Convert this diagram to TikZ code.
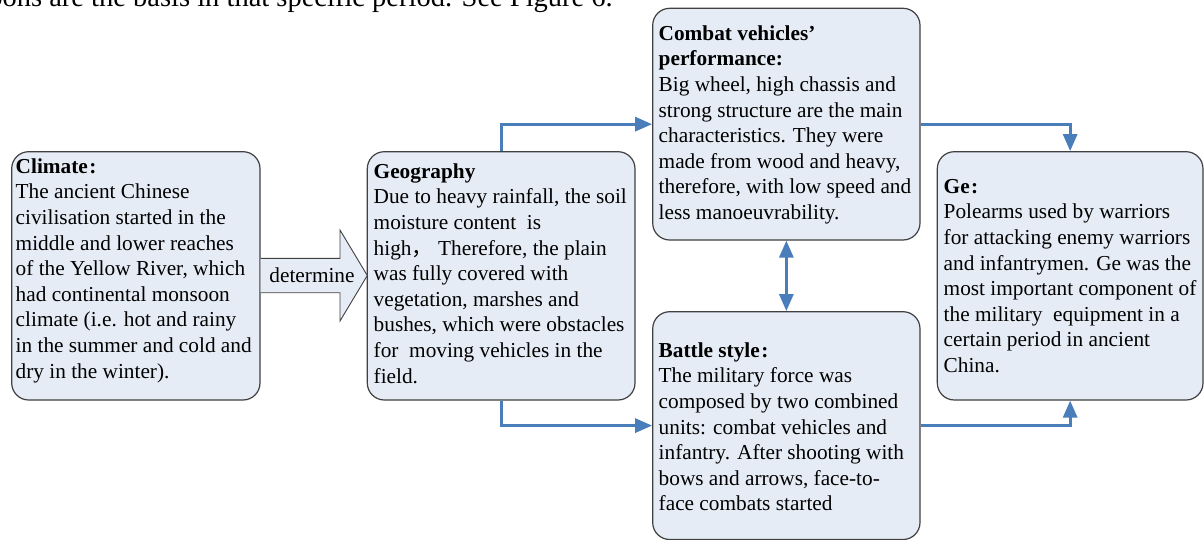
\documentclass[tikz,border=0pt]{standalone}
\usepackage{fontspec}
\setmainfont{Liberation Serif}
\newfontfamily\cjk{Noto Sans CJK SC}
\usetikzlibrary{arrows.meta}
\definecolor{boxfill}{HTML}{E6ECF6}
\definecolor{boxline}{HTML}{404040}
\definecolor{arrowblue}{HTML}{4A7EBB}
\tikzset{
  box/.style={draw=boxline, line width=1.2pt, fill=boxfill, rounded corners=17pt, inner sep=0pt},
  txt/.style={inner sep=0pt, align=left, anchor=north west, font=\fontsize{21.3pt}{25.6pt}\selectfont},
  conn/.style={draw=arrowblue, line width=3pt, -{Triangle[length=17pt,width=14pt]}},
  biconn/.style={draw=arrowblue, line width=3pt, {Triangle[length=17pt,width=14pt]}-{Triangle[length=17pt,width=14pt]}},
  blockarrow/.style={draw=boxline, line width=0.9pt, fill=boxfill, line join=miter}
}
\begin{document}
\begin{tikzpicture}[x=1pt,y=-1pt]
\useasboundingbox (0,0) rectangle (1204,540);
% cropped caption line at the top
\node[inner sep=0pt, anchor=base east, font=\fontsize{28.5pt}{34pt}\selectfont] (cap) at (613,6.5) {weapons are the basis in that specific period. See Figure 6.};
% boxes
\node[box, minimum width=248.3pt, minimum height=248.3pt] (clim) at (135.85,275.85) {};
\node[box, minimum width=267.7pt, minimum height=248.3pt] (geo) at (501.15,275.85) {};
\node[box, minimum width=267.3pt, minimum height=231.7pt] (comb) at (786.35,124.15) {};
\node[box, minimum width=267.3pt, minimum height=227.8pt] (batt) at (786.35,425.6) {};
\node[box, minimum width=265.7pt, minimum height=248.3pt] (ge) at (1070.15,275.85) {};
% block arrow
\draw[blockarrow] (260.7,258.3) -- (340,258.3) -- (340,230) -- (367.3,275.5) -- (340,321) -- (340,292.7) -- (260.7,292.7);
\node[inner sep=0pt, font=\fontsize{21.3pt}{25.6pt}\selectfont] (det) at (312,275.5) {determine};
% texts
\node[txt] (climT) at (15.5,173-17.92) {\strut\textbf{Climate\kern1.5pt:}\\
The ancient Chinese\\
civilisation started in the\\
middle and lower reaches\\
of the Yellow River, which\\
had continental monsoon\\
climate (i.e. hot and rainy\\
in the summer and cold and\\
dry in the winter).};
\node[txt] (geoT) at (373.5,178-17.92) {\strut\textbf{Geography}\\
Due to heavy rainfall, the soil\\
moisture content\ \ is\\
high{\cjk ，}\ Therefore, the plain\\
was fully covered with\\
vegetation, marshes and\\
bushes, which were obstacles\\
for\ \ moving vehicles in the\\
field.};
\node[txt] (combT) at (658.5,40-17.92) {\strut\textbf{Combat vehicles’}\\
\textbf{performance:}\\
Big wheel, high chassis and\\
strong structure are the main\\
characteristics. They were\\
made from wood and heavy,\\
therefore, with low speed and\\
less manoeuvrability.};
\node[txt] (battT) at (658.5,357-17.92) {\strut\textbf{Battle style\kern1.5pt:}\\
The military force was\\
composed by two combined\\
units: combat vehicles and\\
infantry. After shooting with\\
bows and arrows, face-to-\\
face combats started};
\node[txt] (geT) at (943.5,193-17.92) {\strut\textbf{Ge\kern1.5pt:}\\
Polearms used by warriors\\
for attacking enemy warriors\\
and infantrymen. Ge was the\\
most important component of\\
the military\ \ equipment in a\\
certain period in ancient\\
China.};
% connectors
\draw[conn] (geo.north) |- (comb.west);
\draw[conn] (geo.south) |- (batt.west);
\draw[conn] (comb.east) -| (ge.north);
\draw[conn] (batt.east) -| (ge.south);
\draw[biconn] (comb.south) -- (batt.north);
\end{tikzpicture}
\end{document}
